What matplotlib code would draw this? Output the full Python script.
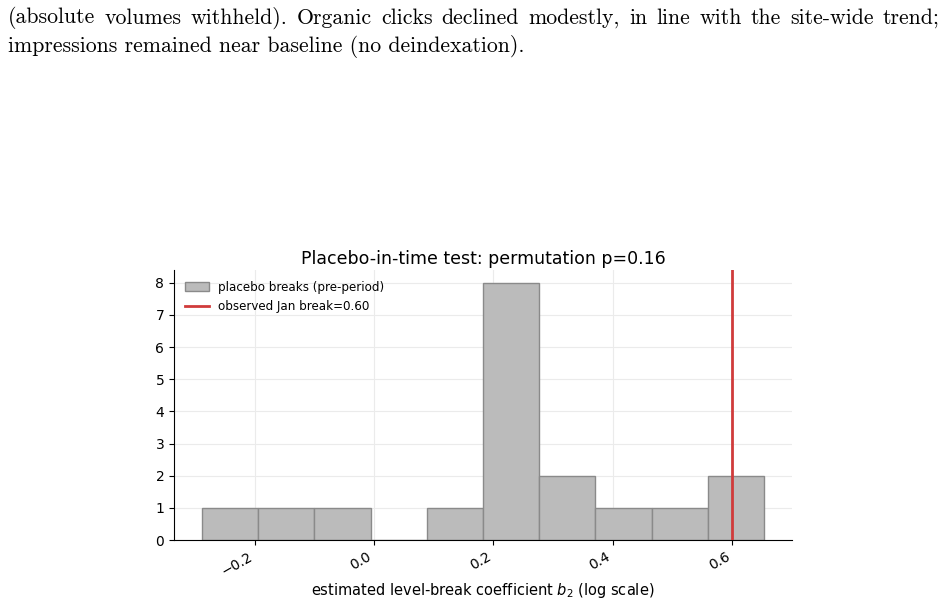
import matplotlib
matplotlib.use("Agg")
import matplotlib.pyplot as plt
import numpy as np

# Data: histogram of placebo break estimates (bin edges and counts)
bin_edges = [-0.288, -0.194, -0.100, -0.005, 0.089, 0.182, 0.276, 0.370, 0.465, 0.559, 0.653]
counts = [1, 1, 1, 0, 1, 8, 2, 1, 1, 2]
observed_break = 0.60
perm_p = 0.16

text_lines = [
    "(absolute volumes withheld).  Organic clicks declined modestly, in line with the site-wide trend;",
    "impressions remained near baseline (no deindexation).",
]

fig = plt.figure(figsize=(9.45, 6.05), dpi=100)
renderer = fig.canvas.get_renderer()

FS = 15.7
x0, x1 = 8, 940


def justified(line, y_px):
    words = line.split()
    arts = []
    total = 0.0
    for w in words:
        t = fig.text(0, 1 - y_px / 605, w, family="cmr10", fontsize=FS, va="center", ha="left")
        bb = t.get_window_extent(renderer)
        arts.append((t, bb.width))
        total += bb.width
    gap = (x1 - x0 - total) / (len(words) - 1)
    x = x0
    for t, wdt in arts:
        t.set_x(x / 945)
        x += wdt + gap


justified(text_lines[0], 18)
fig.text(x0 / 945, 1 - 47 / 605, text_lines[1], family="cmr10", fontsize=FS,
         va="center", ha="left")

ax = fig.add_axes([174 / 945, 65 / 605, (792 - 174) / 945, (540 - 270) / 605])

edges = np.array(bin_edges)
widths = np.diff(edges)
bars = ax.bar(edges[:-1], counts, width=widths, align="edge", color="#bbbbbb",
              edgecolor="#8a8a8a", linewidth=1.0, label="placebo breaks (pre-period)", zorder=2)
vline = ax.axvline(observed_break, color="#d03b3b", linewidth=2,
                   label=f"observed Jan break={observed_break:.2f}", zorder=3)

ax.set_xlim(-0.335, 0.700)
ax.set_ylim(0, 8.4)
ax.set_yticks(range(0, 9))
ax.set_xticks([-0.2, 0.0, 0.2, 0.4, 0.6])
ax.set_xticklabels(["\u22120.2", "0.0", "0.2", "0.4", "0.6"], rotation=30, ha="right")
ax.tick_params(labelsize=10)
ax.grid(True, color="#ebebeb", linewidth=0.8, zorder=0)
ax.set_axisbelow(True)
for s in ["top", "right"]:
    ax.spines[s].set_visible(False)

ax.set_title(f"Placebo-in-time test: permutation p={perm_p:.2f}", fontsize=12.5, pad=4.5)
ax.set_xlabel("estimated level-break coefficient $b_2$ (log scale)", fontsize=10.5, labelpad=2)
ax.legend(handles=[bars, vline], loc="upper left", fontsize=8.6, frameon=False)

fig.savefig("out.png", dpi=100)
